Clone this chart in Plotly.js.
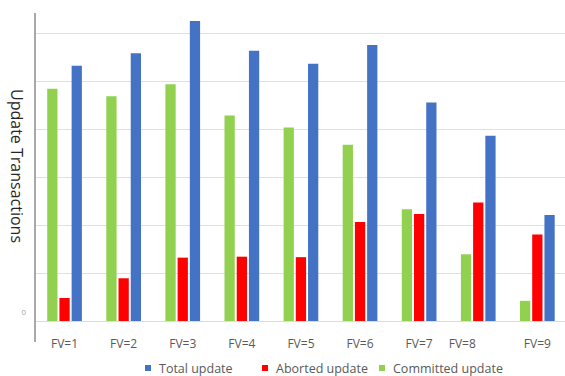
<!DOCTYPE html>
<html>
<head>
<meta charset="utf-8">
<script src="https://cdn.plot.ly/plotly-3.0.1.min.js"></script>
<style>
  html, body { margin: 0; padding: 0; background: #ffffff; }
  #chart { width: 565px; height: 376px; }
</style>
</head>
<body>
<div id="chart"></div>
<script>
// Update transactions per FV setting
const categories = ['FV=1', 'FV=2', 'FV=3', 'FV=4', 'FV=5', 'FV=6', 'FV=7', 'FV=8', 'FV=9'];
const committedUpdate = [48.4, 46.8, 49.3, 42.8, 40.3, 36.7, 23.3, 13.9, 4.2];
const abortedUpdate   = [4.8, 8.9, 13.2, 13.4, 13.3, 20.6, 22.3, 24.7, 18.0];
const totalUpdate     = [53.2, 55.8, 62.5, 56.3, 53.6, 57.5, 45.5, 38.6, 22.1];
const seriesNames = ['Committed update', 'Aborted update', 'Total update'];
const yTickValues = [0, 10, 20, 30, 40, 50, 60];
const yTickText   = ['0', '', '', '', '', '', ''];
const axisTitle = 'Update Transactions';

// Category label positions (the FV=8 label sits a little left of its group)
const xTickPositions = [0, 1, 2, 3, 4, 5, 6, 6.73, 8];

const COLORS = { committed: '#92D050', aborted: '#FF0000', total: '#4472C4' };
const FONT = 'Open Sans, Liberation Sans, sans-serif';

// plot-area geometry in pixels
const W = 565, H = 376;
const L = 35, R = 565, T = 13, B = 321;
const px = x => (x - L) / (R - L);
const py = y => (B - y) / (B - T);

const traces = [
  { name: seriesNames[0], y: committedUpdate, color: COLORS.committed },
  { name: seriesNames[1], y: abortedUpdate,   color: COLORS.aborted },
  { name: seriesNames[2], y: totalUpdate,     color: COLORS.total }
].map(s => ({
  type: 'bar',
  x: categories,
  y: s.y,
  name: s.name,
  marker: { color: s.color, line: { width: 0 } },
  hoverinfo: 'x+y+name',
  showlegend: false
}));

// legend drawn as small squares + labels, Total / Aborted / Committed
const legendOrder = [
  { name: seriesNames[2], color: COLORS.total,     x: 145 },
  { name: seriesNames[1], color: COLORS.aborted,   x: 262 },
  { name: seriesNames[0], color: COLORS.committed, x: 379 }
];
const legendY = 368;

const shapes = [
  // vertical axis line, running a little below the baseline
  { type: 'line', xref: 'paper', yref: 'paper', x0: 0, x1: 0, y0: py(342), y1: 1,
    line: { color: '#8c8c8c', width: 1.5 }, layer: 'above' }
];
const annotations = [
  { xref: 'paper', yref: 'paper', x: px(17), y: py(166), text: axisTitle,
    textangle: 90, showarrow: false, xanchor: 'center', yanchor: 'middle',
    font: { family: FONT, size: 16, color: '#262626' } }
];
legendOrder.forEach(it => {
  shapes.push({ type: 'rect', xref: 'paper', yref: 'paper',
    x0: px(it.x), x1: px(it.x + 6), y0: py(legendY + 3), y1: py(legendY - 3),
    fillcolor: it.color, line: { width: 0 } });
  annotations.push({ xref: 'paper', yref: 'paper', x: px(it.x + 12), y: py(legendY),
    text: it.name, showarrow: false, xanchor: 'left', yanchor: 'middle',
    font: { family: FONT, size: 12.5, color: '#595959' } });
});

const layout = {
  width: W, height: H,
  margin: { l: L, r: W - R, t: T, b: H - B, pad: 0, autoexpand: false },
  paper_bgcolor: '#ffffff', plot_bgcolor: '#ffffff',
  barmode: 'group', bargap: 0.38, bargroupgap: 0.16,
  showlegend: false,
  xaxis: {
    type: 'category',
    range: [-0.5, 8.468],
    tickvals: xTickPositions, ticktext: categories,
    showgrid: false, zeroline: false,
    showline: true, linecolor: '#dcdcdc', linewidth: 1,
    ticks: '', ticklabelstandoff: 12,
    tickfont: { family: FONT, size: 12, color: '#595959' },
    fixedrange: true
  },
  yaxis: {
    range: [0, (B - T) / 4.8],
    tickvals: yTickValues, ticktext: yTickText,
    showgrid: true, gridcolor: '#e0e0e0', gridwidth: 1,
    zeroline: false, showline: false, ticks: '',
    ticklabelshift: -9, ticklabelstandoff: 8,
    tickfont: { family: FONT, size: 8, color: '#a6a6a6' },
    fixedrange: true
  },
  shapes: shapes,
  annotations: annotations
};

Plotly.newPlot('chart', traces, layout, { displayModeBar: false, staticPlot: true });
</script>
</body>
</html>
